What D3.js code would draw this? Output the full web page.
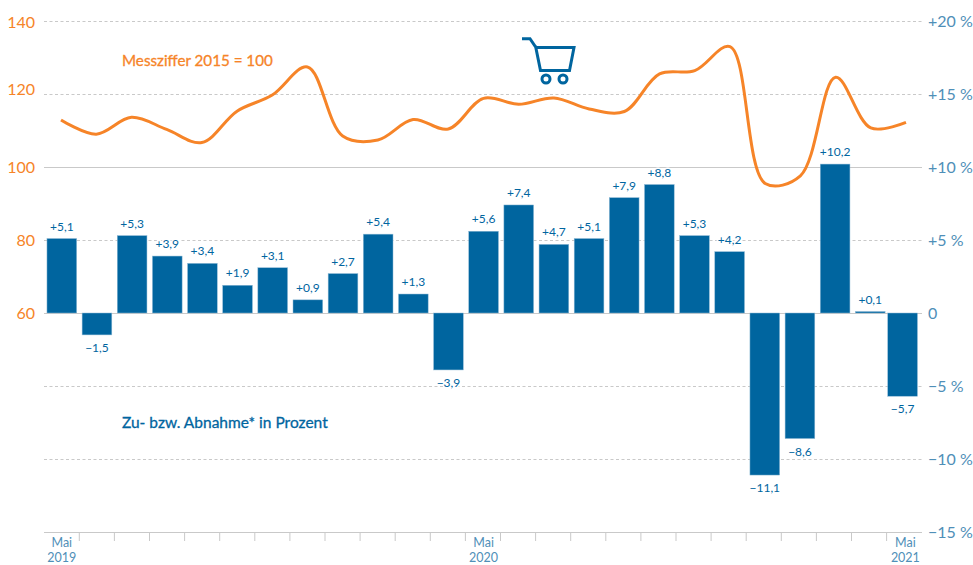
<!DOCTYPE html>
<html>
<head>
<meta charset="utf-8">
<script src="https://cdn.jsdelivr.net/npm/d3@7"></script>
<style>
    html, body { margin: 0; padding: 0; background: #fff; }
    svg { display: block; }
    text { font-family: Lato, "Open Sans", sans-serif; }
</style>
</head>
<body>
<svg></svg>
<script>
// valores
const meses = d3.range(25)
const variacao = [5.1, -1.5, 5.3, 3.9, 3.4, 1.9, 3.1, 0.9, 2.7, 5.4, 1.3, -3.9, 5.6, 7.4, 4.7, 5.1, 7.9, 8.8, 5.3, 4.2, -11.1, -8.6, 10.2, 0.1, -5.7]
const messziffer = [112.9, 109, 113.6, 110.3, 106.7, 115.3, 119.7, 127.4, 108.5, 107.4, 113, 110.4, 118.8, 117.2, 118.9, 115.9, 115.2, 125.5, 126.4, 133, 95.5, 97.6, 124.6, 110.7, 112.2]
const ticksEsquerda = [60, 80, 100, 120, 140]
const ticksDireita = [20, 15, 10, 5, 0, -5, -10, -15]
const rotulosData = [[0, "Mai", "2019"], [12, "Mai", "2020"], [24, "Mai", "2021"]]

const width = 973
const height = 565
const azul = "#00659f"
const azulClaro = "#4f8fb8"
const laranja = "#f68428"
const cinza = "#c9c9c9"

const svg = d3.select("svg").attr("width", width).attr("height", height)

const x = d3.scaleBand().domain(meses).range([44.5, 922.7]).paddingInner(0.155).paddingOuter(0.07)
const xLinha = d3.scalePoint().domain(meses).range([61, 906])
const xMarca = d3.scaleLinear().domain([1, 24]).range([79.3, 886.6])
const yPct = d3.scaleLinear().domain([-15, 20]).range([532, 21])
const yIdx = d3.scaleLinear().domain([60, 140]).range([313, 21])
const fmt = v => (v < 0 ? "\u2212" : "+") + d3.format(".1f")(Math.abs(v)).replace(".", ",")

// a ultima barra fica um pouco deslocada no original
const xBarra = i => x(i) + (i == 24 ? -2.8 : 0)

// linhas de grade
svg.append("g").selectAll("line")
    .data(ticksDireita)
    .join("line")
    .attr("x1", 44).attr("x2", 922)
    .attr("y1", d => yPct(d) + 0.5).attr("y2", d => yPct(d) + 0.5)
    .attr("stroke", cinza)
    .attr("stroke-width", d => (d == 10 || d == 0 || d == -15) ? 1.2 : 1)
    .attr("stroke-dasharray", d => (d == 10 || d == 0 || d == -15) ? null : "3 2.5")

// marcas do eixo x
svg.append("g").selectAll("line")
    .data(meses.slice(1))
    .join("line")
    .attr("x1", d => xMarca(d))
    .attr("x2", d => xMarca(d))
    .attr("y1", 532).attr("y2", 541)
    .attr("stroke", cinza)

// barras
svg.append("g").selectAll("rect")
    .data(variacao)
    .join("rect")
    .attr("x", (d, i) => xBarra(i))
    .attr("width", x.bandwidth())
    .attr("y", d => yPct(Math.max(d, 0)))
    .attr("height", d => Math.abs(yPct(d) - yPct(0)))
    .attr("fill", azul)
    .attr("stroke", "#8fbad6")
    .attr("stroke-width", 0.5)

// rotulos das barras
svg.append("g").selectAll("text")
    .data(variacao)
    .join("text")
    .attr("x", (d, i) => xBarra(i) + x.bandwidth() / 2)
    .attr("y", d => d < 0 ? yPct(d) + 17 : yPct(d) - 8)
    .attr("text-anchor", "middle")
    .attr("font-size", 12)
    .attr("fill", azul)
    .attr("stroke", "#fff")
    .attr("stroke-width", 3)
    .attr("paint-order", "stroke")
    .text(d => fmt(d))

// linha da messziffer
const linha = d3.line()
    .x((d, i) => xLinha(i))
    .y(d => yIdx(d))
    .curve(d3.curveCatmullRom.alpha(0.5))

svg.append("path")
    .attr("d", linha(messziffer))
    .attr("fill", "none")
    .attr("stroke", laranja)
    .attr("stroke-width", 3)

// eixo esquerdo
svg.append("g").selectAll("text")
    .data(ticksEsquerda)
    .join("text")
    .attr("x", 35)
    .attr("y", d => yIdx(d) + (d == 120 ? 1 : d == 140 ? 7 : 6))
    .attr("text-anchor", "end")
    .attr("font-size", 16)
    .attr("fill", laranja)
    .text(d => d)

// eixo direito
svg.append("g").selectAll("text")
    .data(ticksDireita)
    .join("text")
    .attr("x", 928)
    .attr("y", d => yPct(d) + 6)
    .attr("font-size", 16)
    .attr("fill", azulClaro)
    .text(d => d == 0 ? "0" : (d > 0 ? "+" : "\u2212") + Math.abs(d) + " %")

// datas
const datas = svg.append("g").selectAll("text")
    .data(rotulosData)
    .join("text")
    .attr("text-anchor", "middle")
    .attr("font-size", 12.5)
    .attr("fill", azulClaro)
const posData = d => x(d[0]) + x.bandwidth() / 2
datas.append("tspan")
    .attr("x", posData)
    .attr("y", 547)
    .text(d => d[1])
datas.append("tspan")
    .attr("x", posData)
    .attr("y", 562.4)
    .text(d => d[2])

// textos
svg.append("text")
    .attr("x", 122).attr("y", 66)
    .attr("font-size", 15.2)
    .attr("fill", laranja).attr("stroke", laranja).attr("stroke-width", 0.3)
    .text("Messziffer 2015 = 100")

svg.append("text")
    .attr("x", 122).attr("y", 428)
    .attr("font-size", 15.5)
    .attr("fill", azul).attr("stroke", azul).attr("stroke-width", 0.3)
    .text("Zu- bzw. Abnahme* in Prozent")

// carrinho
const carrinho = svg.append("g")
    .attr("fill", "none")
    .attr("stroke", azul)
    .attr("stroke-width", 3)
carrinho.append("path")
    .attr("d", "M522,38.7H530L536,47.5H574L569.5,70.5H540.5L535.5,46")
carrinho.append("circle").attr("cx", 546).attr("cy", 79).attr("r", 4)
carrinho.append("circle").attr("cx", 563).attr("cy", 79).attr("r", 4)
</script>
</body>
</html>
